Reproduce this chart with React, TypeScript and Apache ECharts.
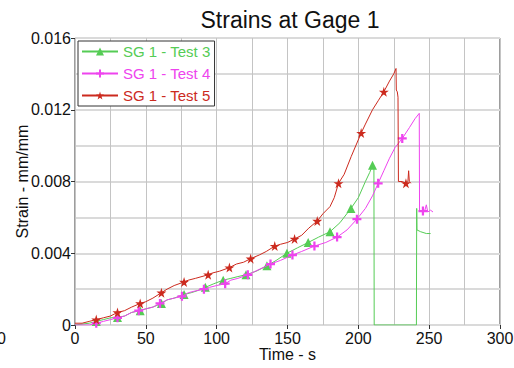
import React, { useEffect, useRef } from "react";
import * as echarts from "echarts";

const titleText = "Strains at Gage 1";
const xName = "Time - s";
const yName = "Strain - mm/mm";
const names = ["SG 1 - Test 3", "SG 1 - Test 4", "SG 1 - Test 5"];
const colors = ["#55cc55", "#ee44ee", "#cc2a1e"];

// Test 3
const t3 = [0, 10, 15, 20, 25, 30, 35, 40, 46, 50, 55, 61, 65, 70, 77, 82, 86, 92, 98, 104.6, 110, 115, 120.7, 128, 135.5, 142, 149.6, 157, 164.6, 172, 180, 187, 194.8, 200, 205, 208, 210, 211, 211.2, 241, 241.2, 241.4, 244, 248, 251];
const s3 = [0, 0.0001, 0.0002, 0.0003, 0.0004, 0.00042, 0.0005, 0.0007, 0.0008, 0.0009, 0.001, 0.0012, 0.0014, 0.0015, 0.0017, 0.0018, 0.0019, 0.0021, 0.0023, 0.0025, 0.0026, 0.0027, 0.0028, 0.003, 0.0033, 0.0036, 0.004, 0.0043, 0.0046, 0.0049, 0.0052, 0.0057, 0.0065, 0.0071, 0.008, 0.0085, 0.0089, 0.0088, 0, 0, 0.0065, 0.0053, 0.0052, 0.0051, 0.0051];
const m3 = [15, 30, 46, 61, 77, 92, 104.6, 120.7, 135.5, 149.6, 164.6, 180, 194.8, 210];

// Test 4
const t4 = [0, 10, 15, 20, 25, 30, 35, 40, 45, 50, 55, 60, 65, 70, 75.5, 80, 85, 91, 95, 100, 106, 110, 115, 122, 130, 138, 145, 153.5, 160, 169, 177, 185, 192, 199, 205, 210, 214, 218, 222, 226, 231, 236, 240, 243, 243.2, 245.6, 247, 248, 249, 251, 252.7];
const s4 = [0, 0, 0.0001, 0.0002, 0.0003, 0.0004, 0.0005, 0.0007, 0.0008, 0.0009, 0.001, 0.0012, 0.0014, 0.0015, 0.0016, 0.0018, 0.0019, 0.002, 0.0021, 0.0022, 0.0023, 0.0025, 0.0026, 0.0028, 0.0031, 0.0034, 0.0036, 0.0039, 0.0041, 0.0044, 0.0046, 0.0049, 0.0053, 0.0059, 0.0065, 0.0072, 0.0079, 0.0086, 0.0093, 0.0099, 0.0104, 0.011, 0.0115, 0.0118, 0.0064, 0.00635, 0.0064, 0.0067, 0.0063, 0.0064, 0.0063];
const m4 = [15, 30, 45, 60, 75.5, 91, 106, 122, 138, 153.5, 169, 185, 199, 214, 231, 245.6];

// Test 5
const t5 = [0, 5, 10, 15, 20, 25, 30, 35, 40, 46, 50, 55, 61, 65, 70, 77, 80, 85, 94, 97, 102, 109, 114, 119, 124, 130, 135, 141, 145, 150, 155, 160, 165, 171, 175, 180, 183, 186, 190, 195, 202, 205, 210, 214, 218, 222, 225, 226.6, 226.8, 227.5, 228, 228.3, 231, 233.6, 235, 235.5, 236, 237];
const s5 = [0.0001, 0.0001, 0.0002, 0.0003, 0.0004, 0.0005, 0.0007, 0.0008, 0.001, 0.0012, 0.0013, 0.0015, 0.0018, 0.002, 0.0022, 0.0024, 0.0025, 0.0026, 0.0028, 0.0029, 0.003, 0.0032, 0.0034, 0.0035, 0.0037, 0.0039, 0.0041, 0.0044, 0.0045, 0.0046, 0.0048, 0.005, 0.0054, 0.0058, 0.0062, 0.0066, 0.0071, 0.0079, 0.0084, 0.0094, 0.0107, 0.0112, 0.012, 0.0125, 0.013, 0.0136, 0.014, 0.0143, 0.0131, 0.013, 0.0127, 0.008, 0.008, 0.0079, 0.008, 0.0086, 0.008, 0.0079];
const m5 = [15, 30, 46, 61, 77, 94, 109, 124, 141, 155, 171, 186, 202, 218, 233.6];

const xTicks = [0, 50, 100, 150, 200, 250, 300];
const yTicks = [0, 0.004, 0.008, 0.012, 0.016];

const PLUS = "path://M3,0H5V3H8V5H5V8H3V5H0V3H3Z";
const STAR = "path://M50,0L61,35H98L68,57L79,91L50,70L21,91L32,57L2,35H39Z";
const symbols = ["triangle", PLUS, STAR];
const symbolSizes = [9, 9, 10];

function build(t: number[], s: number[], m: number[]) {
  return t.map((x, i) =>
    m.includes(x) ? { value: [x, s[i]] } : { value: [x, s[i]], symbol: "none" }
  );
}

export default function App() {
  const ref = useRef<HTMLDivElement>(null);
  useEffect(() => {
    if (!ref.current) return;
    const chart = echarts.init(ref.current, undefined, { renderer: "svg" });
    const font = "Liberation Sans, Arial, sans-serif";
    const datasets = [build(t3, s3, m3), build(t4, s4, m4), build(t5, s5, m5)];
    chart.setOption({
      animation: false,
      textStyle: { fontFamily: font },
      title: {
        text: titleText,
        left: 285,
        top: 3,
        textAlign: "center",
        textStyle: { fontFamily: font, fontSize: 23, fontWeight: "normal", color: "#111" },
      },
      grid: {
        left: 75,
        right: 14,
        top: 38,
        bottom: 43,
        containLabel: false,
        outerBoundsMode: "none",
        show: true,
        borderColor: "#3a3a3a",
        borderWidth: 1,
        backgroundColor: "#fff",
      },
      legend: {
        left: 78,
        top: 41,
        orient: "vertical",
        backgroundColor: "#fff",
        borderColor: "#333",
        borderWidth: 1,
        borderRadius: 0,
        padding: [3, 4, 3, 3],
        itemWidth: 36,
        itemHeight: 10,
        itemGap: 7,
        data: names.map((n, i) => ({
          name: n,
          textStyle: { color: colors[i] },
        })),
        textStyle: { fontFamily: font, fontSize: 15 },
      },
      xAxis: {
        type: "value",
        min: xTicks[0],
        max: xTicks[xTicks.length - 1],
        interval: 50,
        name: xName,
        nameLocation: "middle",
        nameGap: 21,
        nameMoveOverlap: false,
        nameTextStyle: { fontFamily: font, fontSize: 16, color: "#111" },
        axisLine: { show: false },
        axisTick: { show: true, length: 4, lineStyle: { color: "#333" } },
        axisLabel: { fontFamily: font, fontSize: 16, color: "#111", margin: 5 },
        splitLine: { show: true, lineStyle: { color: "#c4c4c4", width: 1 } },
        minorTick: { show: false, splitNumber: 2 },
        minorSplitLine: { show: true, lineStyle: { color: "#c4c4c4", width: 1 } },
      },
      yAxis: {
        type: "value",
        min: yTicks[0],
        max: yTicks[yTicks.length - 1],
        interval: 0.004,
        name: yName,
        nameLocation: "middle",
        nameGap: 45,
        nameMoveOverlap: false,
        nameTextStyle: { fontFamily: font, fontSize: 16, color: "#111" },
        axisLine: { show: false },
        axisTick: { show: true, length: 4, lineStyle: { color: "#333" } },
        axisLabel: {
          fontFamily: font,
          fontSize: 16,
          color: "#111",
          margin: 4,
          formatter: (v: number) => (v === 0 ? "0" : v.toFixed(3)),
        },
        splitLine: { show: true, lineStyle: { color: "#dadada", width: 2 } },
        minorTick: { show: false, splitNumber: 2 },
        minorSplitLine: { show: true, lineStyle: { color: "#dadada", width: 2 } },
      },
      graphic: [
        {
          type: "text",
          left: -3,
          top: 330,
          style: { text: "0", font: "16px Liberation Sans, Arial", fill: "#111" },
        },
      ],
      series: names.map((n, i) => ({
        name: n,
        type: "line",
        data: datasets[i],
        symbol: symbols[i],
        symbolSize: symbolSizes[i],
        showSymbol: true,
        color: colors[i],
        lineStyle: { color: colors[i], width: 1 },
        itemStyle: { color: colors[i] },
        z: 3 + i,
      })),
    });
    return () => chart.dispose();
  }, []);
  return <div ref={ref} style={{ width: 514, height: 368, position: "absolute", left: 0, top: 0 }} />;
}
